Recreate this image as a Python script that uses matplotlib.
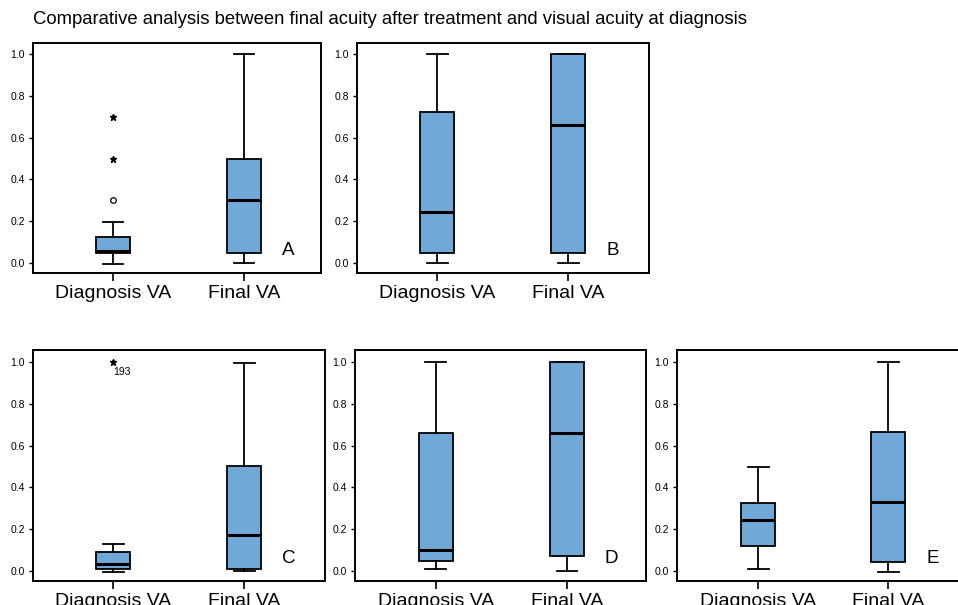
import matplotlib
matplotlib.use("Agg")
import matplotlib.pyplot as plt

plt.rcParams['font.family'] = ['Liberation Sans', 'DejaVu Sans']

title = "Comparative analysis between final acuity after treatment and visual acuity at diagnosis"
categories = ["Diagnosis VA", "Final VA"]
panel_letters = ["A", "B", "C", "D", "E"]

# [whislo, q1, med, q3, whishi] for Diagnosis VA and Final VA
stats_A = [[-0.005, 0.05, 0.055, 0.125, 0.195], [0.0, 0.05, 0.30, 0.50, 1.0]]
stats_B = [[0.0, 0.05, 0.245, 0.725, 1.0], [0.0, 0.05, 0.66, 1.0, 1.0]]
stats_C = [[-0.005, 0.01, 0.035, 0.09, 0.13], [0.0, 0.01, 0.17, 0.50, 0.995]]
stats_D = [[0.01, 0.05, 0.10, 0.66, 1.0], [0.0, 0.07, 0.66, 1.0, 1.0]]
stats_E = [[0.01, 0.12, 0.245, 0.325, 0.495], [-0.005, 0.045, 0.33, 0.665, 1.0]]

# outliers (circle = mild, star = extreme), for Diagnosis VA
circles_A = [0.30]
stars_A = [0.50, 0.70]
stars_C = [1.0]
star_label_C = "193"

all_stats = [stats_A, stats_B, stats_C, stats_D, stats_E]
all_circles = [circles_A, [], [], [], []]
all_stars = [stars_A, [], stars_C, [], []]
all_star_labels = [None, None, star_label_C, None, None]

W, H = 958, 605
fig = plt.figure(figsize=(W / 100, H / 100), dpi=100)

# pixel rectangles: left, right, top, bottom
rects = [(33, 321, 43, 273), (357, 649, 43, 273),
         (33, 325, 350, 581), (355, 646, 350, 581), (677, 960, 350, 581)]
xlims = [(0.389, 2.588), (0.389, 2.618), (0.389, 2.618), (0.382, 2.603), (0.377, 2.55)]
ylims = [(-0.048, 1.053), (-0.048, 1.053), (-0.048, 1.057), (-0.048, 1.057), (-0.048, 1.057)]

fill = "#70a8d8"

for i, (l, r, t, b) in enumerate(rects):
    ax = fig.add_axes([l / W, (H - b) / H, (r - l) / W, (b - t) / H])
    bxstats = []
    for name, s in zip(categories, all_stats[i]):
        bxstats.append(dict(label=name, whislo=s[0], q1=s[1], med=s[2], q3=s[3],
                            whishi=s[4], fliers=[]))
    ax.bxp(bxstats, positions=[1, 2], widths=0.26, patch_artist=True,
           showfliers=False, capwidths=0.16,
           boxprops=dict(facecolor=fill, edgecolor="black", linewidth=1.3),
           medianprops=dict(color="black", linewidth=2.2),
           whiskerprops=dict(color="black", linewidth=1.3),
           capprops=dict(color="black", linewidth=1.3))
    if all_circles[i]:
        ax.plot([1] * len(all_circles[i]), all_circles[i], 'o', mfc='none',
                mec='black', ms=4, mew=0.9)
    if all_stars[i]:
        ax.plot([1] * len(all_stars[i]), all_stars[i], '*', color='black', ms=4.5)
    if all_star_labels[i]:
        ax.text(1.0, all_stars[i][0] - 0.05, all_star_labels[i], fontsize=7.5,
                ha='left', va='center')
    ax.set_xlim(*xlims[i])
    ax.set_ylim(*ylims[i])
    ax.set_yticks([0.0, 0.2, 0.4, 0.6, 0.8, 1.0])
    ax.set_yticklabels(["0.0", "0.2", "0.4", "0.6", "0.8", "1.0"])
    ax.set_xticks([1, 2])
    ax.set_xticklabels(categories)
    ax.tick_params(axis='y', labelsize=7.5, length=3, width=1, pad=3)
    ax.tick_params(axis='x', labelsize=14, length=6, width=1.2, pad=3)
    for sp in ax.spines.values():
        sp.set_linewidth(1.4)
        sp.set_color("black")
    ax.text(2.29, 0.06, panel_letters[i], fontsize=13.5, ha='left', va='center')

fig.text(33 / W, 1 - 20 / H, title, fontsize=13.3, ha='left', va='center')

fig.savefig("out.png", dpi=100)
